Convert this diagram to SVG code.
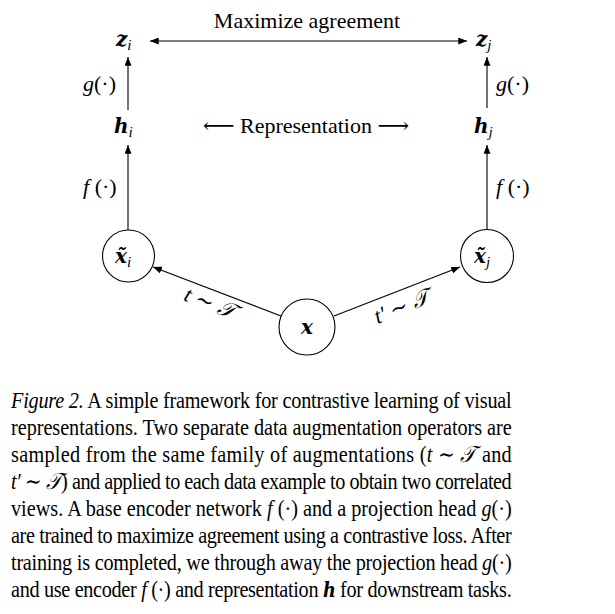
<svg xmlns="http://www.w3.org/2000/svg" width="615" height="614" viewBox="0 0 615 614">
<style>
.t{font-family:"Liberation Serif","DejaVu Serif",serif;font-size:22px;fill:#000}
.it{font-style:italic}
.bi{font-style:italic;font-weight:bold}
.m{font-family:"DejaVu Serif","Liberation Serif",serif;font-style:italic;font-weight:bold;font-size:20px}
.sub{font-family:"Liberation Serif",serif;font-style:italic;font-size:15px}
.cap{font-family:"Liberation Serif","DejaVu Serif",serif;font-size:23px;fill:#000}
.ln{stroke:#000;stroke-width:1.1;fill:none}
.nd{stroke:#000;stroke-width:1.1;fill:#fff}
</style>
<defs>
<marker id="ah" viewBox="0 0 10 8" refX="10" refY="4" markerWidth="9" markerHeight="7" markerUnits="userSpaceOnUse" orient="auto-start-reverse">
<path d="M0,0 L10,4 L0,8 Z" fill="#000"/>
</marker>
</defs>
<rect width="615" height="614" fill="#fff"/>

<g id="connectors">
<line class="ln" x1="150" y1="41" x2="467" y2="41" marker-start="url(#ah)" marker-end="url(#ah)"/>
<line class="ln" x1="128" y1="110" x2="128" y2="57" marker-end="url(#ah)"/>
<line class="ln" x1="487" y1="108" x2="487" y2="57" marker-end="url(#ah)"/>
<line class="ln" x1="128" y1="230" x2="128" y2="145" marker-end="url(#ah)"/>
<line class="ln" x1="487" y1="230" x2="487" y2="145" marker-end="url(#ah)"/>
<line class="ln" x1="281" y1="316" x2="153" y2="267" marker-end="url(#ah)"/>
<line class="ln" x1="334" y1="316" x2="460" y2="267" marker-end="url(#ah)"/>
<text class="t" x="307" y="28" text-anchor="middle">Maximize agreement</text>
<text class="t" x="83" y="91"><tspan class="it">g</tspan>(·)</text>
<text class="t" x="496" y="91"><tspan class="it">g</tspan>(·)</text>
<text class="t" x="83" y="194"><tspan class="it">f</tspan> (·)</text>
<text class="t" x="496" y="194"><tspan class="it">f</tspan> (·)</text>
<text class="t" x="306" y="133" text-anchor="middle">⟵ Representation ⟶</text>
<text class="t" x="209" y="310" text-anchor="middle" transform="rotate(21.5 209 305)"><tspan class="it">t</tspan> ∼ <tspan class="it">𝒯</tspan></text>
<text class="t" x="402" y="314" text-anchor="middle" transform="rotate(-21.5 402 308)"><tspan class="it">t′</tspan> ∼ <tspan class="it">𝒯</tspan></text>
</g>

<g id="z_i"><text class="t" x="116" y="46"><tspan class="m">z</tspan><tspan class="sub" dy="4">i</tspan></text></g>
<g id="z_j"><text class="t" x="476" y="46"><tspan class="m">z</tspan><tspan class="sub" dy="4">j</tspan></text></g>
<g id="h_i"><text class="t" x="114" y="133"><tspan class="m">h</tspan><tspan class="sub" dy="4">i</tspan></text></g>
<g id="h_j"><text class="t" x="474" y="133"><tspan class="m">h</tspan><tspan class="sub" dy="4">j</tspan></text></g>
<g id="xt_i"><circle class="nd" cx="128.5" cy="256" r="26"/><text class="t" x="115" y="263"><tspan class="m">x̃</tspan><tspan class="sub" dy="4">i</tspan></text></g>
<g id="xt_j"><circle class="nd" cx="487" cy="256" r="26.5"/><text class="t" x="474" y="263"><tspan class="m">x̃</tspan><tspan class="sub" dy="4">j</tspan></text></g>
<g id="x"><circle class="nd" cx="307" cy="327" r="28"/><text class="t" x="307" y="334" text-anchor="middle"><tspan class="m">x</tspan></text></g>

<g id="caption" transform="scale(0.88,1)">
<text class="cap" x="12.5" y="408" textLength="569" lengthAdjust="spacing"><tspan class="it">Figure 2.</tspan> A simple framework for contrastive learning of visual</text>
<text class="cap" x="12.5" y="435" textLength="569" lengthAdjust="spacing">representations.  Two separate data augmentation operators are</text>
<text class="cap" x="12.5" y="462" textLength="569" lengthAdjust="spacing">sampled from the same family of augmentations (<tspan class="it">t</tspan> ∼ <tspan class="it">𝒯</tspan> and</text>
<text class="cap" x="12.5" y="489" textLength="569" lengthAdjust="spacing"><tspan class="it">t′</tspan> ∼ <tspan class="it">𝒯</tspan>) and applied to each data example to obtain two correlated</text>
<text class="cap" x="12.5" y="516" textLength="569" lengthAdjust="spacing">views.  A base encoder network <tspan class="it">f</tspan> (·) and a projection head <tspan class="it">g</tspan>(·)</text>
<text class="cap" x="12.5" y="543" textLength="569" lengthAdjust="spacing">are trained to maximize agreement using a contrastive loss. After</text>
<text class="cap" x="12.5" y="570" textLength="569" lengthAdjust="spacing">training is completed, we through away the projection head <tspan class="it">g</tspan>(·)</text>
<text class="cap" x="12.5" y="597" textLength="569" lengthAdjust="spacing">and use encoder <tspan class="it">f</tspan> (·) and representation <tspan class="m">h</tspan> for downstream tasks.</text>
</g>
</svg>
